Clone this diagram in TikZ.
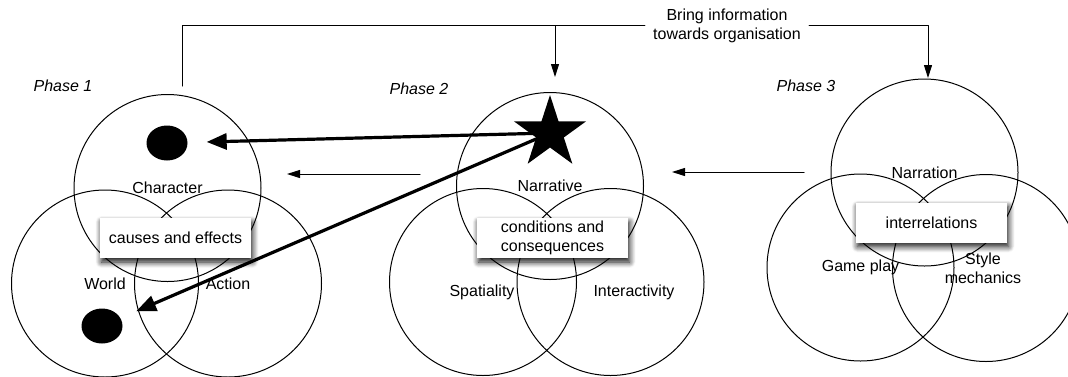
\documentclass[tikz,border=0pt]{standalone}
\usepackage{fontspec}
\setmainfont{Liberation Sans}
\usetikzlibrary{arrows.meta, shapes.geometric, shadows.blur, positioning}

\tikzset{
	venn/.style={draw, circle, line width=1pt, minimum size=187pt, inner sep=0pt},
	tagbox/.style={fill=white, minimum width=151pt, minimum height=40pt, align=center, inner sep=2pt,
		blur shadow={shadow xshift=1.5pt, shadow yshift=-4pt, shadow blur radius=6pt, shadow blur steps=10, shadow opacity=95}},
	phase/.style={font=\fontsize{16}{19}\selectfont\itshape},
	dot/.style={ellipse, fill=black, minimum width=41pt, minimum height=35pt, inner sep=0pt},
	link/.style={line width=1pt},
	thinarrow/.style={-{Triangle[length=13pt,width=8pt]}, line width=1pt},
	bigarrow/.style={-{Triangle[length=20pt,width=16pt]}, line width=3.2pt}
}

\begin{document}
\begin{tikzpicture}[x=1pt, y=-1pt, line cap=round, line join=round, >=Triangle,
	font=\fontsize{16}{19}\selectfont]

		\useasboundingbox (0,0) rectangle (1068,376);

		% phase 1 circles
		\node[venn] (charac) at (167.5,188) {Character};
		\node[venn] (world) at (105,283.5) {World};
		\node[venn] (action) at (228,283.5) {Action};
		\node[phase] (ph1) at (63,86) {Phase 1};

		% phase 2 circles
		\node[venn] (narrative) at (550,186) {Narrative};
		\node[venn] (spatial) at (483,282) {};
		\node[venn] (interact) at (610.5,282) {};
		\node at (482,292) {Spatiality};
		\node at (634,292) {Interactivity};
		\node[phase] (ph2) at (419,89) {Phase 2};

		% phase 3 circles
		\node[venn] (narration) at (924.5,172.5) {Narration};
		\node[venn] (gameplay) at (860.5,267.5) {Game play};
		\node[venn] (stylemech) at (986,268) {};
		\node[align=center] at (983,268) {Style\\mechanics};
		\node[phase] (ph3) at (806,86) {Phase 3};

		% boxes in the middle
		\node[tagbox] (causes) at (175.5,238) {causes and effects};
		\node[tagbox] (conditions) at (552.5,238) {conditions and\\consequences};
		\node[tagbox] (interrel) at (931.5,222.5) {interrelations};

		% top connector
		\node[inner xsep=8pt, align=center] (bring) at (727,25.5) {Bring information\\towards organisation};
		\coordinate (p1) at (182,86);
		\coordinate (j2) at (555,25.5);
		\coordinate (a2) at (555,77);
		\coordinate (a3) at (928,78);
		\draw [link] (bring.west) -| (p1);
		\draw [thinarrow] (j2) -- (a2);
		\draw [thinarrow] (bring.east) -| (a3);

		% arrows between phases
		\coordinate (s3) at (804,172);
		\coordinate (e3) at (672,172);
		\coordinate (s2) at (420,174);
		\coordinate (e2) at (287,174);
		\draw [thinarrow] (s3) -- (e3);
		\draw [thinarrow] (s2) -- (e2);

		% dots and star
		\node[dot] (dot1) at (167,143) {};
		\node[dot] (dot2) at (102,326) {};
		\draw [bigarrow, shorten >=19pt] (550,133) -- (dot1);
		\draw [bigarrow, shorten >=17pt] (550,133) -- (dot2);
		\node[star, star points=5, star point ratio=2.618, minimum size=76pt, inner sep=0pt, fill=black] (star) at (550,133) {};
    \end{tikzpicture}
\end{document}
